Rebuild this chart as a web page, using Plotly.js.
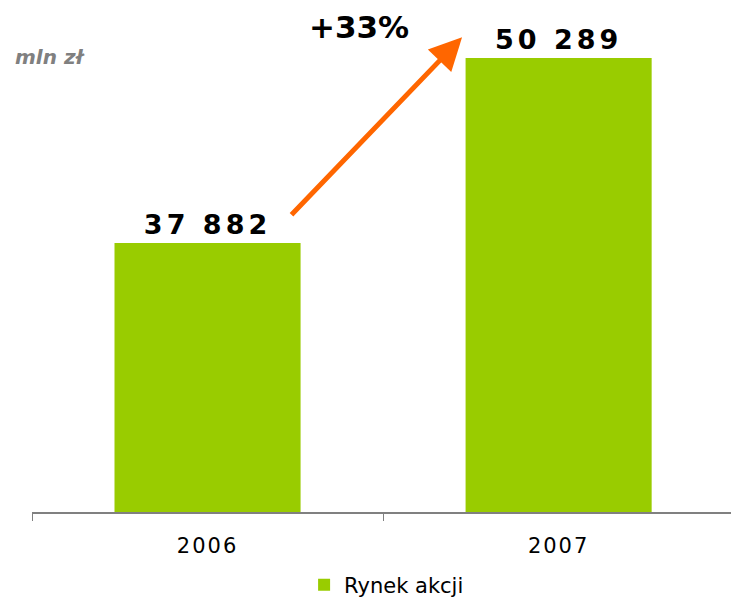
<!DOCTYPE html>
<html>
<head>
<meta charset="utf-8">
<script src="https://cdn.plot.ly/plotly-3.0.1.min.js"></script>
<style>
  body { margin: 0; padding: 0; background: #fff; }
  #myDiv { width: 731px; height: 602px; }
  /* the original uses widely spaced lettering */
  #myDiv text.bartext { letter-spacing: 4px; }
  #myDiv .xtick text { letter-spacing: 2px; }
</style>
</head>
<body>
<div id="myDiv"></div>
<script>
// ---------------------------------
// Data
// ---------------------------------
const years = ['2006', '2007'];
const values = [37882, 50289];   // mln zł
const seriesName = 'Rynek akcji';
const growthLabel = '+33%';
const unitLabel = 'mln zł';

// Constants
const GREEN = '#99CC00';
const ORANGE = '#FF6600';
const YMIN = 19840;   // axis does not start at zero in the original
const YMAX = 52836;

const traces = [{
  type: 'bar',
  x: years,
  y: values,
  name: seriesName,
  width: 0.53,
  marker: { color: GREEN },
  texttemplate: '%{y:,.0f}',
  textposition: 'outside',
  cliponaxis: false,
  textfont: { family: 'DejaVu Sans', size: 27, color: '#000', weight: 'bold' },
  hoverinfo: 'skip'
}];

var layout = {
  width: 731,
  height: 602,
  margin: { l: 32, r: 0, t: 20, b: 90 },
  paper_bgcolor: '#fff',
  plot_bgcolor: '#fff',
  separators: ', ',
  showlegend: true,
  legend: {
    orientation: 'h',
    xref: 'container',
    yref: 'container',
    x: 0.416,
    xanchor: 'left',
    y: 0.028,
    yanchor: 'middle',
    font: { family: 'DejaVu Sans', size: 21, color: '#000' }
  },
  xaxis: {
    type: 'category',
    range: [-0.5, 1.491],
    showline: true,
    linecolor: '#808080',
    linewidth: 2,
    ticks: 'outside',
    tickson: 'boundaries',
    ticklen: 7,
    tickcolor: '#808080',
    tickwidth: 1,
    ticklabelstandoff: 14,
    showgrid: false,
    zeroline: false,
    automargin: false,
    tickfont: { family: 'DejaVu Sans', size: 21, color: '#000' }
  },
  yaxis: {
    range: [YMIN, YMAX],
    visible: false,
    showgrid: false,
    zeroline: false
  },
  annotations: [
    {
      // growth arrow
      x: 0.725, y: 51676, xref: 'x', yref: 'y',
      ax: 0.235, ay: 39671, axref: 'x', ayref: 'y',
      text: '',
      showarrow: true,
      arrowhead: 2,
      arrowsize: 1.3,
      arrowwidth: 5,
      arrowcolor: ORANGE
    },
    {
      x: 0.468, y: 0.986, xref: 'paper', yref: 'paper',
      xanchor: 'center', yanchor: 'middle',
      text: growthLabel,
      showarrow: false,
      font: { family: 'DejaVu Sans', size: 31, color: '#000', weight: 'bold' }
    },
    {
      x: -0.027, y: 0.925, xref: 'paper', yref: 'paper',
      xanchor: 'left', yanchor: 'middle',
      text: '<b><i>' + unitLabel + '</i></b>',
      showarrow: false,
      font: { family: 'DejaVu Sans', size: 20, color: '#808080' }
    }
  ]
};

var config = { responsive: false, displayModeBar: false, staticPlot: true };

// Plot
Plotly.newPlot('myDiv', traces, layout, config);
</script>
</body>
</html>
